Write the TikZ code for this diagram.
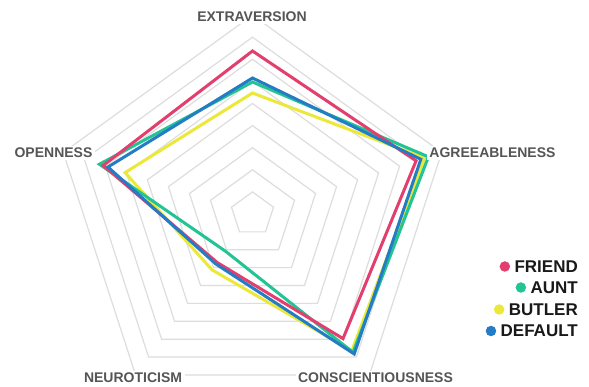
\documentclass[tikz,border=0pt]{standalone}
\usepackage{fontspec}
\setmainfont{Liberation Sans}
\definecolor{cfriend}{RGB}{226,62,110}
\definecolor{caunt}{RGB}{34,196,148}
\definecolor{cbutler}{RGB}{236,232,58}
\definecolor{cdefault}{RGB}{36,124,196}
\definecolor{cgrid}{RGB}{221,221,221}
\definecolor{caxis}{RGB}{85,85,85}
\begin{document}
\begin{tikzpicture}[x=1pt,y=1pt,
  gridline/.style={draw=cgrid,line width=1.2pt,line join=miter},
  series/.style={line width=3pt,line join=miter,line cap=butt},
  axislabel/.style={fill=white,inner sep=2.5pt,text=caxis,font=\fontsize{14}{14}\selectfont\bfseries},
  legendtext/.style={anchor=east,inner sep=0pt,text=black!90,font=\fontsize{17}{17}\selectfont\bfseries},
  legenddot/.style={circle,inner sep=0pt,minimum size=10.5pt}]
\useasboundingbox[fill=white] (0,0) rectangle (589,387);
\def\u{22.1}
\begin{scope}[shift={(252.5,173)}]
  \coordinate (c) at (0,0);
  \foreach \k in {1,...,9}{
    \draw[gridline] (90:\k*\u) -- (18:\k*\u) -- (-54:\k*\u) -- (-126:\k*\u) -- (162:\k*\u) -- cycle;
  }
  % FRIEND
  \coordinate (fE) at (90:163); \coordinate (fA) at (18:172); \coordinate (fC) at (-54:154);
  \coordinate (fN) at (-126:60); \coordinate (fO) at (162:157);
  % AUNT
  \coordinate (aE) at (90:132); \coordinate (aA) at (18:185); \coordinate (aC) at (-54:171);
  \coordinate (aN) at (-126:46); \coordinate (aO) at (162:161);
  % BUTLER
  \coordinate (bE) at (90:121); \coordinate (bA) at (18:181); \coordinate (bC) at (-54:169);
  \coordinate (bN) at (-126:69); \coordinate (bO) at (162:134);
  % DEFAULT
  \coordinate (dE) at (90:136); \coordinate (dA) at (18:177); \coordinate (dC) at (-54:173);
  \coordinate (dN) at (-126:62); \coordinate (dO) at (162:152);
  \draw[series,cbutler] (bE) -- (bA) -- (bC) -- (bN) -- (bO) -- cycle;
  \draw[series,caunt] (aE) -- (aA) -- (aC) -- (aN) -- (aO) -- cycle;
  \draw[series,cfriend] (fE) -- (fA) -- (fC) -- (fN) -- (fO) -- cycle;
  \draw[series,cdefault] (dE) -- (dA) -- (dC) -- (dN) -- (dO) -- cycle;
\end{scope}
\node[axislabel] (lE) at (252,370) {EXTRAVERSION};
\node[axislabel] (lO) at (53.5,234) {OPENNESS};
\node[axislabel] (lA) at (492.5,234) {AGREEABLENESS};
\node[axislabel] (lN) at (133,9) {NEUROTICISM};
\node[axislabel] (lC) at (375.5,9) {CONSCIENTIOUSNESS};
\node[legendtext] (tF) at (578,120.5) {FRIEND};
\node[legendtext] (tA) at (578,99.5) {AUNT};
\node[legendtext] (tB) at (578,77.5) {BUTLER};
\node[legendtext] (tD) at (578,56) {DEFAULT};
\node[legenddot,fill=cfriend] (dotF) at ([xshift=-9.5pt]tF.west) {};
\node[legenddot,fill=caunt] (dotA) at ([xshift=-9.5pt]tA.west) {};
\node[legenddot,fill=cbutler] (dotB) at ([xshift=-9.5pt]tB.west) {};
\node[legenddot,fill=cdefault] (dotD) at ([xshift=-9.5pt]tD.west) {};
\end{tikzpicture}
\end{document}
